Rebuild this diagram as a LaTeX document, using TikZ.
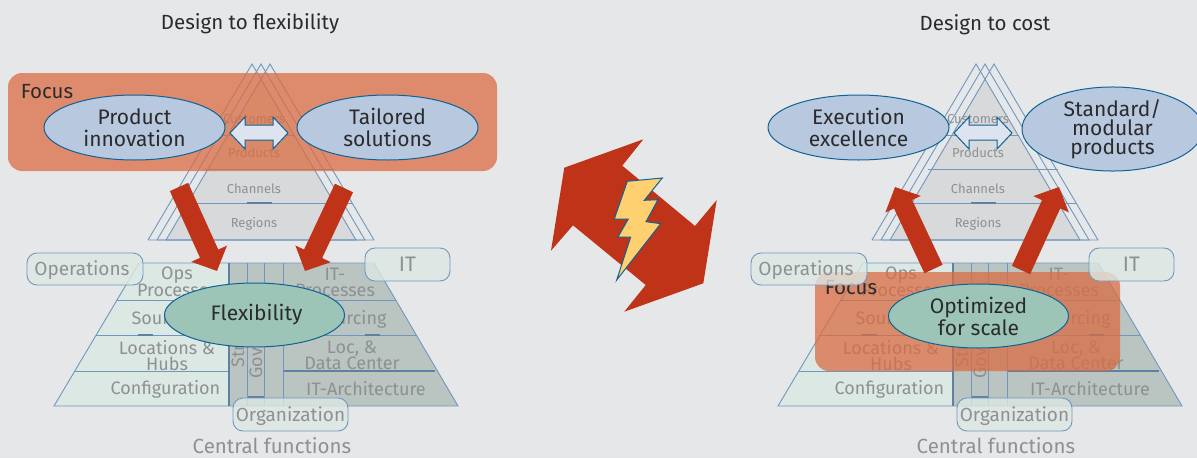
\documentclass[tikz,border=0pt]{standalone}
\usepackage{fontspec}
\setmainfont{Fira Sans}
\usetikzlibrary{arrows.meta,shapes.geometric}
\definecolor{bgcol}{HTML}{E6E7E9}
\definecolor{linecol}{HTML}{6F97C0}
\definecolor{darkline}{HTML}{0F6296}
\definecolor{greycol}{HTML}{8E9092}
\definecolor{inkcol}{HTML}{2B2B2D}
\definecolor{pyrcol}{HTML}{D8D9DA}
\definecolor{lightcol}{HTML}{DCE8E3}
\definecolor{midcol}{HTML}{BAC4C0}
\definecolor{focuscol}{HTML}{DA6D43}
\definecolor{bluecol}{HTML}{B8C8DF}
\definecolor{greencol}{HTML}{9CC5B8}
\definecolor{redcol}{HTML}{BF3319}
\definecolor{boltcol}{HTML}{FFD070}
\definecolor{twincol}{HTML}{DDE3EF}
\tikzset{
	small/.style={text=greycol, inner sep=0pt, align=center, font=\fontsize{18}{16}\selectfont},
	tiny/.style={text=greycol, inner sep=0pt, font=\fontsize{13}{14}\selectfont},
	tag/.style={draw=linecol, line width=0.9pt, fill=lightcol, fill opacity=0.8, text opacity=1, text=greycol, rounded corners=10pt, inner sep=0pt, text depth=1pt, font=\fontsize{19}{20}\selectfont},
	oval/.style={ellipse, draw=darkline, line width=1pt, inner sep=0pt, minimum width=181pt, minimum height=65pt, align=center, text=inkcol, font=\fontsize{21}{22}\selectfont},
	blueoval/.style={oval, fill=bluecol},
	greenoval/.style={oval, fill=greencol, minimum width=180pt, minimum height=64pt},
	focus/.style={fill=focuscol, fill opacity=0.75, rounded corners=14pt},
	focustext/.style={text=inkcol, inner sep=0pt, font=\fontsize{20.5}{22}\selectfont},
	title/.style={text=inkcol, inner sep=0pt, font=\fontsize{20.5}{22}\selectfont},
	redarrow/.style={draw=redcol, line width=20pt, -{Triangle[length=19pt,width=38pt,fill=redcol]}},
	thin line/.style={draw=linecol, line width=0.9pt},
	thick line/.style={draw=linecol!85!black, line width=1.8pt}
}
\newcommand{\pyramids}{
	\fill[pyrcol] (261,79) -- (356,240) -- (166,240) -- cycle;
	\draw[thin line] (148,240) -- (252,64) -- (356,240) -- (148,240);
	\draw[thin line] (157,240) -- (261,64) -- (365,240) -- (157,240);
	\draw[thin line] (166,240) -- (270,64) -- (374,240) -- (166,240);
	\draw[thin line] (223,135) -- (295,135);
	\draw[thin line] (204,169) -- (334,169);
	\draw[thin line] (179,203) -- (353,203);
	\draw[thick line] (247,203) -- (272,203);
	\node[tiny] (customers) at (254,119) {Customers};
	\node[tiny] (products) at (254,153) {Products};
	\node[tiny] (channels) at (254,189) {Channels};
	\node[tiny] (regions) at (254,224) {Regions};
	\fill[lightcol] (54,406) -- (139,263) -- (229,263) -- (229,406) -- cycle;
	\fill[midcol] (229,263) -- (374,263) -- (458,406) -- (229,406) -- cycle;
	\draw[thin line] (229,406) -- (54,406) -- (139,263) -- (374,263) -- (458,406) -- (229,406);
	\draw[thin line] (117,300) -- (229,300) (96,335) -- (229,335) (75,371) -- (229,371);
	\draw[thin line] (283,300) -- (396,300) (283,335) -- (417,335);
	\draw[thick line] (283,371) -- (435,371);
	\draw[thick line] (138,335) -- (153,335) (365,335) -- (380,335) (247,397) -- (264,397);
	\draw[thick line] (229,263) -- (229,406);
	\draw[thin line] (247,263) -- (247,406) (264,263) -- (264,406) (283,263) -- (283,406);
	\node[small] (opsproc) at (177,282) {Ops\\Processes};
	\node[small] (sourcing) at (167,319) {Sourcing};
	\node[small] (hubs) at (167,356) {Locations \&\\Hubs};
	\node[small] (config) at (165.5,389) {Configuration};
	\node[small] (itproc) at (335,282) {IT-\\Processes};
	\node[small] (itsourcing) at (351,319) {Sourcing};
	\node[small] (datacenter) at (352,355) {Loc, \&\\Data Center};
	\node[small] (itarch) at (366,389) {IT-Architecture};
	\node[small, rotate=90, anchor=west] (structure) at (238,368) {Structure};
	\node[small, rotate=90, anchor=west] (governance) at (256,379) {Governance};
	\node[text=greycol, inner sep=0pt, font=\fontsize{20.5}{22}\selectfont] (central) at (272,446) {Central functions};
}
\newcommand{\tags}{
	\node[tag, minimum width=116pt, minimum height=32pt] (operations) at (85,269) {\hspace*{-6pt}Operations};
	\node[tag, minimum width=85pt, minimum height=33pt, font=\fontsize{21}{22}\selectfont] (it) at (407.5,264.5) {IT};
	\node[tag, minimum width=115pt, minimum height=33pt] (organization) at (290.5,414.5) {Organization};
}
\newcommand{\twinarrow}{
	\draw[darkline, fill=twincol, line width=1pt] (230,133) -- (245,117) -- (245,125) -- (273,125) -- (273,117) -- (288,133) -- (273,149) -- (273,140) -- (245,140) -- (245,149) -- cycle;
}
\begin{document}
\begin{tikzpicture}[x=1pt, y=-1pt]

	\useasboundingbox (0,0) rectangle (1197,458);
	\clip (0,0) rectangle (1197,458);
	\fill[bgcol] (0,0) rectangle (1197,458);

	\pyramids
	\fill[focus] (8,73) rectangle (497,171);
	\node[focustext] (focusleft) at (47,92) {Focus};
	\tags
	\node[title] (titleleft) at (250,24) {Design to flexibility};
	\twinarrow
	\node[blueoval] (innovation) at (134.5,127.5) {Product\\innovation};
	\node[blueoval] (tailored) at (387.5,127.5) {Tailored\\solutions};
	\node[greenoval, font=\fontsize{21}{22}\selectfont] (flexibility) at (254.5,315) {\hspace*{4pt}Flexibility};
	\coordinate (leftfromA) at (179,187);
	\coordinate (lefttoA) at (217,271);
	\coordinate (leftfromB) at (344,188);
	\coordinate (lefttoB) at (305,271);
	\draw[redarrow] (leftfromA) -- (lefttoA);
	\draw[redarrow] (leftfromB) -- (lefttoB);

	\begin{scope}[xshift=724pt]
		\pyramids
		\fill[focus] (91,272) rectangle (396,371);
		\node[focustext] (focusright) at (127,288) {Focus};
		\tags
		\twinarrow
		\node[title] (titleright) at (261,25) {Design to cost};
		\node[blueoval] (execution) at (134.5,127.5) {Execution\\excellence};
		\node[blueoval, font=\fontsize{21}{19}\selectfont] (modular) at (388.5,129) {Standard/\\modular\\products};
		\node[greenoval] (scale) at (254.5,316) {Optimized\\for scale};
		\coordinate (rightfromA) at (209.5,269);
		\coordinate (righttoA) at (171,187);
		\coordinate (rightfromB) at (297,270);
		\coordinate (righttoB) at (335,187);
		\draw[redarrow] (rightfromA) -- (righttoA);
		\draw[redarrow] (rightfromB) -- (righttoB);
	\end{scope}

	\fill[redcol] (564.3,167.7) -- (643.3,139.3) -- (622.3,165.7) -- (695,226) -- (716.7,200) -- (703.3,283.3) -- (624.3,311.7) -- (645.7,285) -- (573,225.3) -- (551,250.7) -- cycle;
	\draw[darkline, fill=boltcol, line width=1pt] (627.3,181.3) -- (662.3,178) -- (644.3,200.3) -- (658,199.7) -- (646,221.7) -- (660.7,223.7) -- (616.7,280) -- (630.7,237) -- (618,237) -- (628.3,219) -- (614.3,219) -- cycle;

\end{tikzpicture}
\end{document}
